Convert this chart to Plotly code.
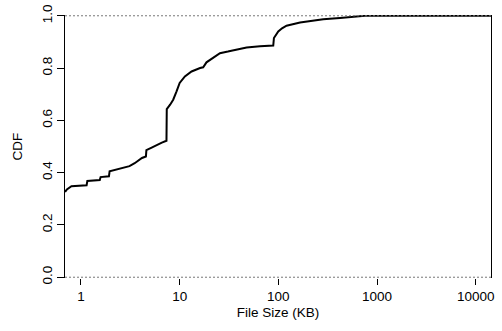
import plotly.graph_objects as go

# ECDF of file sizes (KB)
file_size_kb = [0.69, 0.72, 0.80, 1.14, 1.16, 1.55, 1.58, 1.92, 1.95, 2.5, 3.1, 3.5, 4.0,
                4.15, 4.55, 4.6, 5.2, 5.9, 6.6, 7.35, 7.4, 8.0, 8.6, 9.3, 10.0, 11.3, 13.2,
                16.1, 17.3, 18.7, 21.7, 25.6, 30.8, 37.8, 47.7, 65.2, 88.8, 90.2, 99.8,
                109, 121, 166, 285, 421, 621, 754, 14300]
cdf = [0.326, 0.336, 0.348, 0.352, 0.368, 0.372, 0.383, 0.386, 0.405, 0.416, 0.425, 0.436, 0.452,
       0.456, 0.462, 0.486, 0.496, 0.507, 0.515, 0.522, 0.643, 0.660, 0.679, 0.711, 0.743, 0.768, 0.787,
       0.800, 0.803, 0.822, 0.840, 0.857, 0.863, 0.870, 0.879, 0.883, 0.886, 0.915, 0.940,
       0.952, 0.962, 0.974, 0.987, 0.992, 0.997, 1.0, 1.0]

x_tick_vals = [1, 10, 100, 1000, 10000]
x_tick_text = ["1", "10", "100", "1000", "10000"]
y_tick_vals = [0, 0.2, 0.4, 0.6, 0.8, 1.0]
y_tick_text = ["0.0", "0.2", "0.4", "0.6", "0.8", "1.0"]

font = dict(family="Liberation Sans, Arial, sans-serif", size=13.5, color="black")

fig = go.Figure()
fig.add_trace(go.Scatter(x=file_size_kb, y=cdf, mode="lines",
                         line=dict(color="black", width=2), showlegend=False,
                         hoverinfo="skip"))

for yv in (0, 1):
    fig.add_shape(type="line", xref="paper", yref="y", x0=0, x1=1, y0=yv, y1=yv,
                  line=dict(color="#777777", width=1, dash="2px,2px"))

fig.update_layout(
    width=502, height=331,
    margin=dict(l=65, r=11, t=15, b=53),
    paper_bgcolor="white", plot_bgcolor="white",
    font=font,
    xaxis=dict(type="log", range=[-0.162, 4.155], tickvals=x_tick_vals, ticktext=x_tick_text,
               ticks="outside", ticklen=6, tickcolor="black", showgrid=False, zeroline=False,
               showline=False, automargin=False,
               title=dict(text="File Size (KB)", font=font, standoff=4)),
    yaxis=dict(range=[-0.003, 1.003], tickvals=y_tick_vals, ticktext=y_tick_text,
               tickangle=-90, ticks="outside", ticklen=7, tickcolor="black",
               showgrid=False, zeroline=False, showline=True, linecolor="black",
               linewidth=1, mirror=True, automargin=False,
               title=dict(text="CDF", font=font, standoff=13)),
)

fig.write_html("out.html", config={"displayModeBar": False, "staticPlot": True},
               post_script="document.body.style.margin='0';document.body.style.overflow='hidden';")
